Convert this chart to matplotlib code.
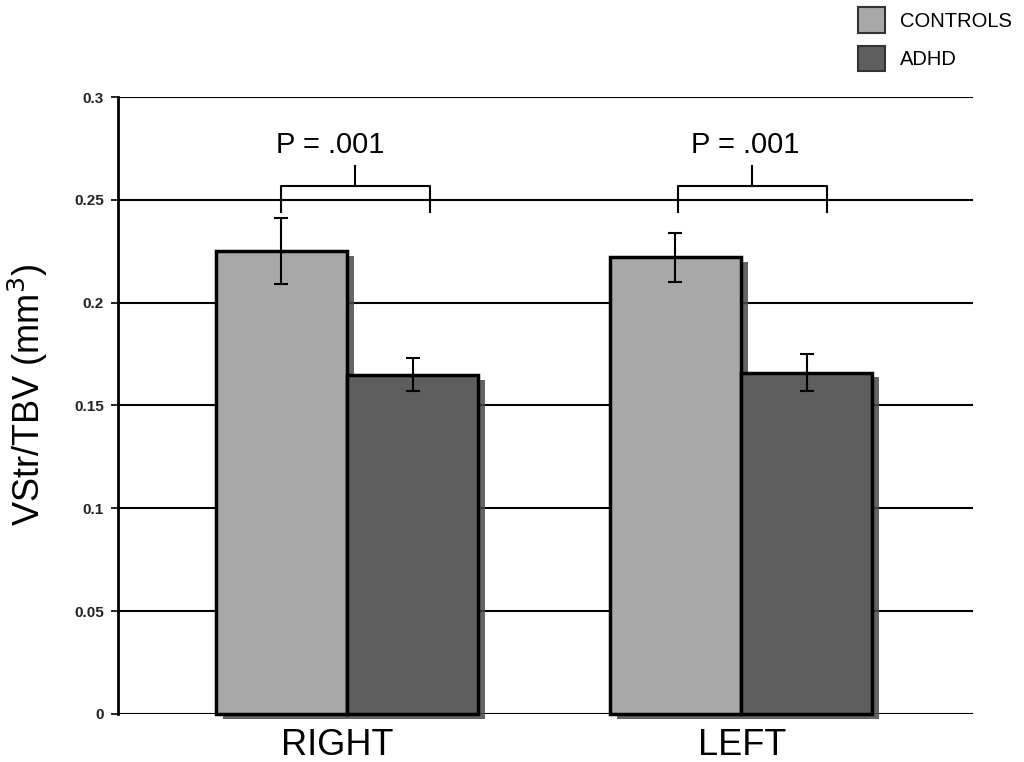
import matplotlib
matplotlib.use("Agg")
import matplotlib.pyplot as plt
import matplotlib.patheffects as pe
from matplotlib.patches import Patch
import numpy as np

plt.rcParams['font.family'] = ['Liberation Sans', 'DejaVu Sans']

groups = ["RIGHT", "LEFT"]
series = ["CONTROLS", "ADHD"]
controls = [0.225, 0.222]
adhd = [0.165, 0.166]
controls_err = [0.016, 0.012]
adhd_err = [0.008, 0.009]
p_labels = ["P = .001", "P = .001"]
yticks = [0, 0.05, 0.1, 0.15, 0.2, 0.25, 0.3]
ytick_labels = ["0", "0.05", "0.1", "0.15", "0.2", "0.25", "0.3"]

c_ctrl = "#a8a8a8"
c_adhd = "#5e5e5e"

fig = plt.figure(figsize=(10.24, 7.62), dpi=100)
ax = fig.add_axes([0.1152, 0.063, 0.835, 0.8097])

x = np.arange(len(groups))
w = 0.333
shadow = [pe.SimplePatchShadow(offset=(5, -3.5), shadow_rgbFace="#4a4a4a", alpha=0.85), pe.Normal()]

for v in yticks:
    ax.axhline(v, color="black", lw=1.5, zorder=1)

b1 = ax.bar(x - w / 2, controls, w, color=c_ctrl, edgecolor="black", linewidth=2.5, zorder=3)
b2 = ax.bar(x + w / 2, adhd, w, color=c_adhd, edgecolor="black", linewidth=2.5, zorder=3.5)
for b in list(b1) + list(b2):
    b.set_path_effects(shadow)
    b.set_clip_on(False)

ax.errorbar(x - w / 2, controls, yerr=controls_err, fmt="none", ecolor="black",
            elinewidth=1.5, capsize=5, capthick=1.5, zorder=5)
ax.errorbar(x + w / 2, adhd, yerr=adhd_err, fmt="none", ecolor="black",
            elinewidth=1.5, capsize=5, capthick=1.5, zorder=5)

# significance brackets
text_dx = [-0.043, 0.01]
tick_dx = [0.02, 0.028]
bracket_dx = [0.0, 0.008]
for xi, lab, tdx, kdx, bdx in zip(x, p_labels, text_dx, tick_dx, bracket_dx):
    xl = xi - w / 2 + bdx
    xr = xi + w / 2 + 0.045 + bdx
    xm = xi + kdx
    ax.plot([xl, xl, xr, xr], [0.2442, 0.2568, 0.2568, 0.2442], color="black", lw=1.5, zorder=4)
    ax.plot([xm, xm], [0.2568, 0.2665], color="black", lw=1.5, zorder=4)
    ax.text(xi + tdx, 0.2765, lab, ha="center", va="center", fontsize=21)

ax.set_xlim(-0.581, 1.589)
ax.set_ylim(0, 0.3)
ax.set_yticks(yticks)
ax.set_yticklabels(ytick_labels, fontsize=11, fontweight="bold", color="#222222")
ax.set_xticks(x + np.array([-0.025, 0.003]))
ax.set_xticklabels(groups, fontsize=26)
ax.tick_params(axis="x", length=0, pad=10)
ax.tick_params(axis="y", length=5, width=1.2, pad=5)
for s in ["top", "right", "bottom"]:
    ax.spines[s].set_visible(False)
ax.spines["left"].set_linewidth(2)
ax.set_ylabel("VStr/TBV (mm$^3$)", fontsize=26)
ax.yaxis.set_label_coords(-0.08, 0.517)

handles = [Patch(facecolor=c_ctrl, edgecolor="#333333", linewidth=1.5),
           Patch(facecolor=c_adhd, edgecolor="#333333", linewidth=1.5)]
fig.legend(handles, series, loc="upper right", bbox_to_anchor=(1.006, 1.014), frameon=False,
           fontsize=14.5, handlelength=1.35, handleheight=1.55, labelspacing=0.65, handletextpad=0.75)

fig.savefig("out.png", dpi=100)
